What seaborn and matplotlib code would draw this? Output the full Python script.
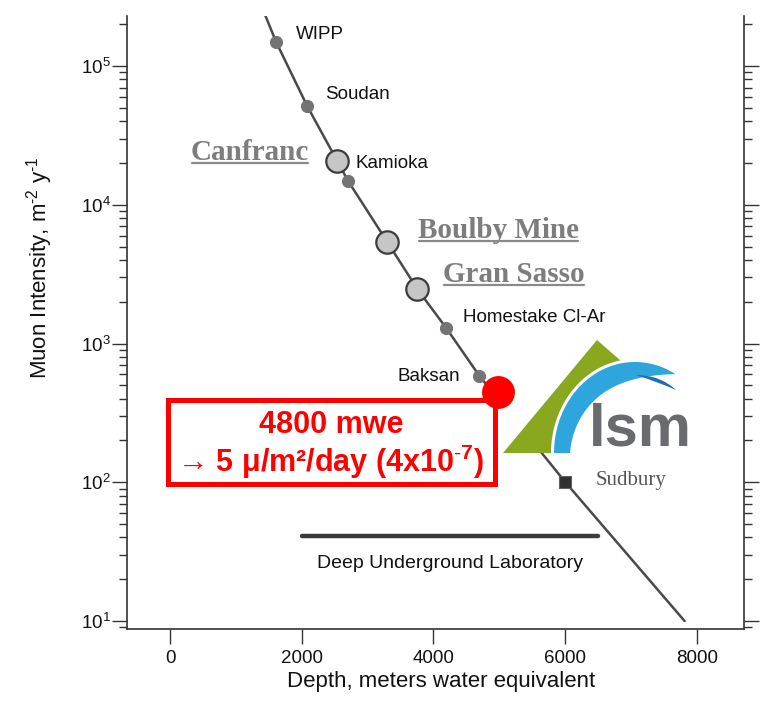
import numpy as np
import pandas as pd
import matplotlib
matplotlib.use("Agg")
import matplotlib.pyplot as plt
import seaborn as sns
from matplotlib.patches import Rectangle, Polygon, PathPatch
from matplotlib.path import Path
from matplotlib.transforms import Affine2D, IdentityTransform
from matplotlib.lines import Line2D
from matplotlib.ticker import LogLocator, FixedLocator, NullLocator, LogFormatterSciNotation

# ---------------- data ----------------
curve_depth = [1444, 1611, 2082, 2538, 2705, 3298, 3754, 4195, 4696, 6003, 7812]
curve_intensity = [2.33e5, 1.49e5, 5.15e4, 2.07e4, 1.48e4, 5.4e3, 2.47e3, 1.29e3, 585, 100, 10]

small_sites = ["WIPP", "Soudan", "Kamioka", "Homestake Cl-Ar", "Baksan"]
small_depth = [1611, 2082, 2705, 4195, 4696]
small_intensity = [1.49e5, 5.15e4, 1.48e4, 1.29e3, 585]

big_sites = ["Canfranc", "Boulby Mine", "Gran Sasso"]
big_depth = [2538, 3298, 3754]
big_intensity = [2.07e4, 5.4e3, 2.47e3]

sudbury_site = ["Sudbury"]
sudbury_depth = [6003]
sudbury_intensity = [100]

lsm_depth = [4985]
lsm_intensity = [448]

lab_range = [2000, 6500]
lab_level = [41, 41]
lab_label = "Deep Underground Laboratory"

x_ticks = [0, 2000, 4000, 6000, 8000]
x_label = "Depth, meters water equivalent"
y_label = "Muon Intensity, m$^{\\text{-}2}$ y$^{\\text{-}1}$"
box_lines = ["4800 mwe", "\u2192 5 \u03bc/m\u00b2/day (4x10$^{\\mathbf{\\text{-}7}}$)"]
logo_text = "lsm"

# ---------------- style ----------------
sns.set_theme(style="ticks")
plt.rcParams["font.family"] = ["Liberation Sans", "DejaVu Sans"]
plt.rcParams["mathtext.fontset"] = "custom"
plt.rcParams["mathtext.rm"] = "Liberation Sans"
plt.rcParams["mathtext.it"] = "Liberation Sans:italic"
plt.rcParams["mathtext.bf"] = "Liberation Sans:bold"

INK = "#333333"
fig = plt.figure(figsize=(7.69, 7.06), dpi=100)
ax = fig.add_axes([127 / 769, 1 - 629 / 706, 617 / 769, 613 / 706])
ax.set_yscale("log")
ax.set_xlim(-653, 8714)
ax.set_ylim(8.76, 2.293e5)

# page-pixel helper transforms (decorations only)
page = Affine2D().translate(-127, -629).scale(1 / 617, -1 / 613) + ax.transAxes
logo = Affine2D().translate(373, 176).scale(1 / 617, 1 / 613) + ax.transAxes

# ---------------- marks ----------------
sns.lineplot(x=curve_depth, y=curve_intensity, sort=False, estimator=None,
             color="#4a4a4a", lw=1.8, ax=ax, zorder=2)
sns.lineplot(x=lab_range, y=lab_level, sort=False, estimator=None,
             color="#3a3a3a", lw=3.2, ax=ax, zorder=2)
sns.scatterplot(x=small_depth, y=small_intensity, s=75, color="#747474",
                edgecolor="#747474", linewidth=0.8, ax=ax, zorder=3)
sns.scatterplot(x=big_depth, y=big_intensity, s=260, color="#c6c6c6",
                edgecolor="#3c3c3c", linewidth=1.6, ax=ax, zorder=3)
sns.scatterplot(x=sudbury_depth, y=sudbury_intensity, s=80, marker="s",
                color="#303030", edgecolor="#606060", linewidth=0.8, ax=ax, zorder=3)
sns.scatterplot(x=lsm_depth, y=lsm_intensity, s=560, color="#ff0000",
                edgecolor="#ff0000", linewidth=0, ax=ax, zorder=8)

# ---------------- labels ----------------
small_offsets = [(20, 7), (18, 11), (7, 18), (17, 11), (-19, -1)]
for name, xd, yd, off in zip(small_sites, small_depth, small_intensity, small_offsets):
    ax.annotate(name, (xd, yd), xytext=off, textcoords="offset pixels",
                ha="left" if off[0] > 0 else "right", va="center",
                fontsize=13.5, color="#111111", zorder=5)

big_offsets = [(-28, 1), (31, 4), (26, 7)]
big_texts = []
for name, xd, yd, off in zip(big_sites, big_depth, big_intensity, big_offsets):
    t = ax.annotate(name, (xd, yd), xytext=off, textcoords="offset pixels",
                    ha="left" if off[0] > 0 else "right", va="baseline",
                    fontsize=21, fontweight="bold", family="Liberation Serif",
                    color="#7d7d7d", zorder=5)
    big_texts.append((t, xd, yd, off))

ax.annotate(sudbury_site[0], (sudbury_depth[0], sudbury_intensity[0]), xytext=(30, 2),
            textcoords="offset pixels", ha="left", va="center", fontsize=15,
            family="Liberation Serif", color="#555555", zorder=5)

ax.annotate(lab_label, (np.mean(lab_range), lab_level[0]), xytext=(0, -28),
            textcoords="offset pixels", ha="center", va="center", fontsize=14,
            color="#111111", zorder=5)

# ---------------- axes styling ----------------
ax.set_xticks(x_ticks)
ax.xaxis.set_minor_locator(NullLocator())
ax.yaxis.set_major_locator(LogLocator(base=10, numticks=10))
ax.yaxis.set_minor_locator(LogLocator(base=10, subs=np.arange(2, 10), numticks=10))
ax.yaxis.set_major_formatter(LogFormatterSciNotation())
ax.tick_params(axis="both", which="major", direction="out", length=10.5, width=1.0,
               color=INK, labelsize=13.5, labelcolor="#111111")
ax.tick_params(axis="y", which="minor", direction="out", length=5.5, width=1.0, color=INK)
ax.tick_params(axis="y", which="both", right=True, left=True)
ax.tick_params(axis="y", which="major", pad=1)
ax.tick_params(axis="x", which="major", pad=4.6)
for s in ["left", "bottom", "right"]:
    ax.spines[s].set_color(INK)
    ax.spines[s].set_linewidth(1.2)
ax.spines["top"].set_visible(False)
ax.set_xlabel(x_label, fontsize=16, color="#111111")
ax.set_ylabel(y_label, fontsize=16, color="#111111")
ax.xaxis.set_label_coords(0.509, -0.0685)
ax.yaxis.set_label_coords(-0.117, 0.589)
ax.grid(False)

# ---------------- red box ----------------
ax.add_patch(Rectangle((168, 400), 327, 84, transform=page, facecolor="white",
                       edgecolor="#ff0000", lw=3.6, zorder=7, clip_on=False))
ax.text(331, 425, box_lines[0], transform=page, ha="center", va="center",
        fontsize=22, fontweight="bold", color="#ff0000", zorder=9)
ax.text(331, 462, box_lines[1], transform=page, ha="center", va="center",
        fontsize=22, fontweight="bold", color="#ff0000", zorder=9,
        family=["Liberation Sans", "DejaVu Sans"])

# ---------------- LSM logo ----------------
ax.add_patch(Rectangle((500, 335), 192, 118, transform=page, facecolor="white",
                       edgecolor="none", zorder=4))
cx, a_o, b_o = 135.0, 81.0, 91.0
th = np.radians(np.linspace(180, 60, 120))
tt = (180 - np.degrees(th)) / 120.0
w = (16 + 12 * tt) * (1 - tt ** 4)
outer = np.column_stack([cx + a_o * np.cos(th), b_o * np.sin(th)])
inner = np.column_stack([cx + (a_o - w) * np.cos(th), (b_o - w) * np.sin(th)])
blue_poly = np.vstack([outer, inner[::-1]])
th_g = np.radians(np.linspace(100, 180, 60))
green_edge = np.column_stack([cx + 84 * np.cos(th_g), 94 * np.sin(th_g)])
green_poly = np.vstack([[[3, 0], [97, 113]], green_edge])
ax.add_patch(Polygon(green_poly, closed=True, transform=logo, facecolor="#8aa81f",
                     edgecolor="none", zorder=5))
ax.add_patch(Polygon(blue_poly, closed=True, transform=logo, facecolor="#2fa5dd",
                     edgecolor="none", zorder=5))
sliver = Path([(136, 78), (160, 78), (176, 63), (158, 71), (136, 78)],
              [Path.MOVETO, Path.CURVE3, Path.CURVE3, Path.CURVE3, Path.CURVE3])
ax.add_patch(PathPatch(sliver, transform=logo, facecolor="#1c6fb0",
                       edgecolor="none", zorder=5))
ax.text(89, 8, logo_text, transform=logo, ha="left", va="baseline", fontsize=43,
        fontweight="bold", color="#6a6b6e", zorder=5)

# ---------------- underlines for serif labels ----------------
fig.canvas.draw()
renderer = fig.canvas.get_renderer()
for t, xd, yd, off in big_texts:
    bb = t.get_window_extent(renderer)
    px, py = ax.transData.transform((xd, yd))
    base = py + off[1] - 3
    fig.add_artist(Line2D([bb.x0 + 1, bb.x1 - 1], [base, base], transform=IdentityTransform(),
                          color="#8a8a8a", lw=1.6, zorder=6))

fig.savefig("out.png", dpi=100, facecolor="white")
